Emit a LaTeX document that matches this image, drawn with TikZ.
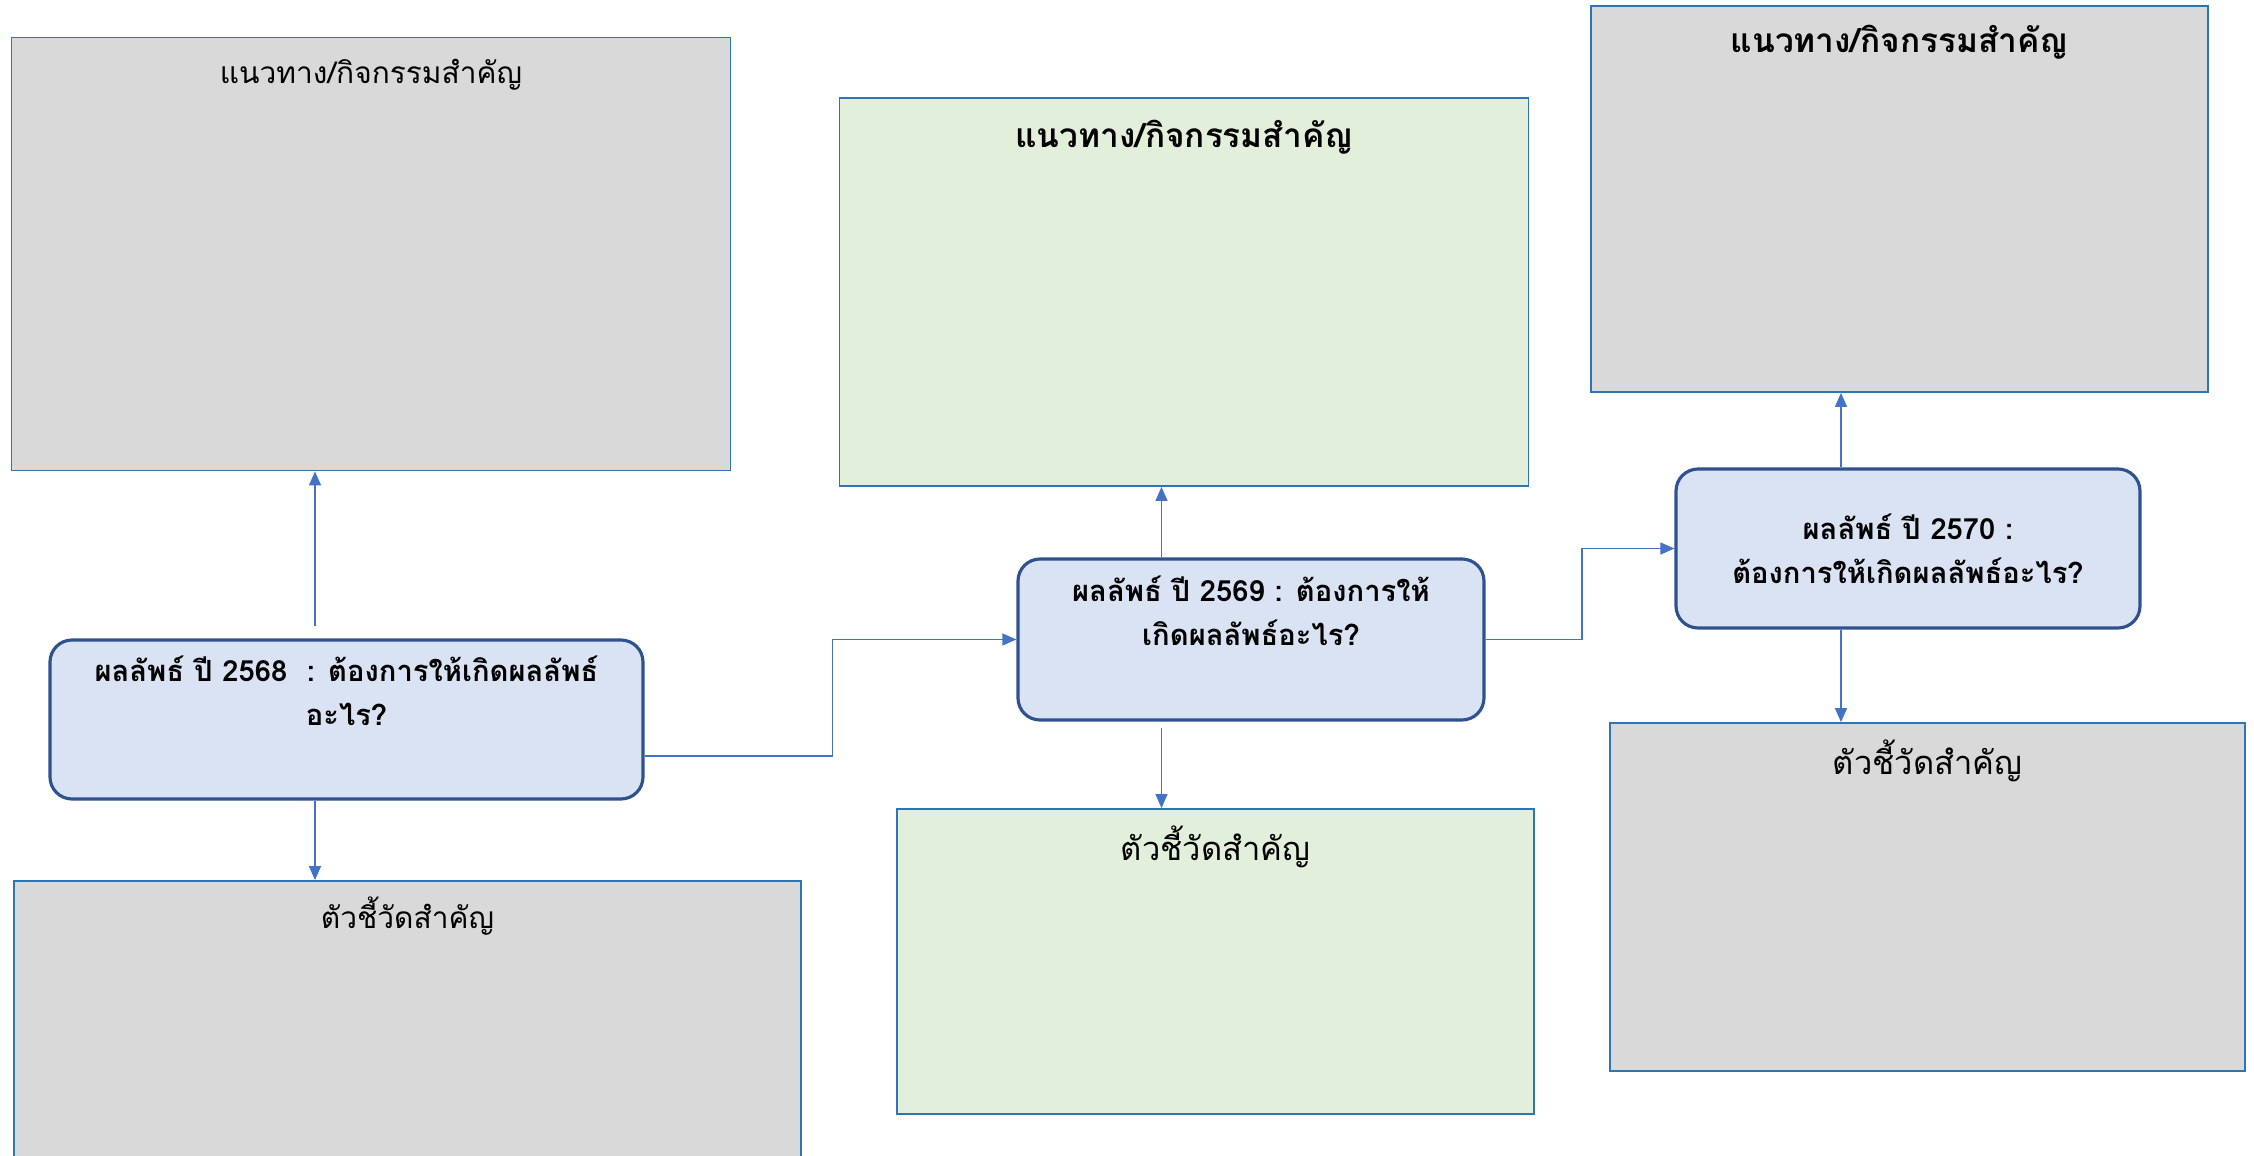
\documentclass[tikz,border=0pt]{standalone}
\usepackage{fontspec}
\newfontfamily\thaifont[Script=Thai]{Loma}
\usetikzlibrary{arrows.meta,positioning,calc}
\definecolor{boxgray}{HTML}{D9D9D9}
\definecolor{boxgreen}{HTML}{E2EFDA}
\definecolor{resblue}{HTML}{DAE3F3}
\definecolor{rectline}{HTML}{2E75B6}
\definecolor{resline}{HTML}{2F528F}
\definecolor{linkblue}{HTML}{4472C4}

\begin{document}
\begin{tikzpicture}[
    x=0.1mm, y=-0.1mm,
    plan/.style={rectangle, draw=rectline, line width=0.5pt, inner sep=0pt},
    result/.style={rectangle, rounded corners=2.2mm, draw=resline, line width=0.9pt, fill=resblue, align=center, inner sep=0pt, font=\thaifont\bfseries\fontsize{8.3}{12.5}\selectfont},
    title/.style={inner sep=0pt, font=\thaifont\fontsize{8.5}{10}\selectfont},
    bigtitle/.style={inner sep=0pt, font=\thaifont\fontsize{9.3}{11}\selectfont},
    boldtitle/.style={inner sep=0pt, font=\thaifont\bfseries\fontsize{9.5}{11}\selectfont},
    link/.style={draw=linkblue, line width=0.45pt, -{Triangle[length=4pt,width=3.4pt]}},
]
\useasboundingbox (0,0) rectangle (2254,1156);

% Year 2568
\node[plan, fill=boxgray, minimum width=71.9mm, minimum height=43.3mm] (act1) at (371,254) {};
\node[plan, fill=boxgray, minimum width=78.7mm, minimum height=30mm] (ind1) at (407.5,1031) {};
\node[result, minimum width=59.3mm, minimum height=15.9mm] (res1) at (346.5,719.5) {ผลลัพธ์ ปี 2568\ \ : ต้องการให้เกิดผลลัพธ์\\อะไร?\\ \strut};

% Year 2569
\node[plan, fill=boxgreen, minimum width=68.9mm, minimum height=38.8mm] (act2) at (1184,292) {};
\node[plan, fill=boxgreen, minimum width=63.7mm, minimum height=30.5mm] (ind2) at (1215.5,961.5) {};
\node[result, minimum width=46.6mm, minimum height=16.1mm] (res2) at (1251,639.5) {ผลลัพธ์ ปี 2569 : ต้องการให้\\เกิดผลลัพธ์อะไร?\\ \strut};

% Year 2570
\node[plan, fill=boxgray, minimum width=61.7mm, minimum height=38.6mm] (act3) at (1899.5,199) {};
\node[plan, fill=boxgray, minimum width=63.5mm, minimum height=34.8mm] (ind3) at (1927.5,897) {};
\node[result, minimum width=46.4mm, minimum height=15.9mm] (res3) at (1908,548.5) {ผลลัพธ์ ปี 2570 :\\ต้องการให้เกิดผลลัพธ์อะไร?};

% Titles
\node[title] (act1t) at ([yshift=-3.8mm]act1.north) {แนวทาง/กิจกรรมสำคัญ};
\node[title] (ind1t) at ([yshift=-3.6mm]ind1.north) {ตัวชี้วัดสำคัญ};
\node[boldtitle] (act2t) at ([yshift=-4mm]act2.north) {แนวทาง/กิจกรรมสำคัญ};
\node[bigtitle] (ind2t) at ([yshift=-3.9mm]ind2.north) {ตัวชี้วัดสำคัญ};
\node[boldtitle] (act3t) at ([yshift=-3.7mm]act3.north) {แนวทาง/กิจกรรมสำคัญ};
\node[bigtitle] (ind3t) at ([yshift=-3.9mm]ind3.north) {ตัวชี้วัดสำคัญ};

% Links
\draw[link] ([xshift=-3.15mm,yshift=1.2mm]res1.north) -- ([xshift=-3.15mm]res1.north |- act1.south);
\draw[link] ([xshift=-3.15mm]res1.south) -- ([xshift=-3.15mm]res1.south |- ind1.north);
\draw[link] ([xshift=-8.95mm]res2.north) -- ([xshift=-8.95mm]res2.north |- act2.south);
\draw[link] ([xshift=-8.95mm,yshift=-0.6mm]res2.south) -- ([xshift=-8.95mm]res2.south |- ind2.north);
\draw[link] ([xshift=-6.7mm]res3.north) -- ([xshift=-6.7mm]res3.north |- act3.south);
\draw[link] ([xshift=-6.7mm]res3.south) -- ([xshift=-6.7mm]res3.south |- ind3.north);

\draw[link] ([yshift=-3.65mm]res1.east) -- ++(188,0) |- (res2.west);
\draw[link] (res2.east) -- ++(96.5,0) |- (res3.west);

\end{tikzpicture}
\end{document}
